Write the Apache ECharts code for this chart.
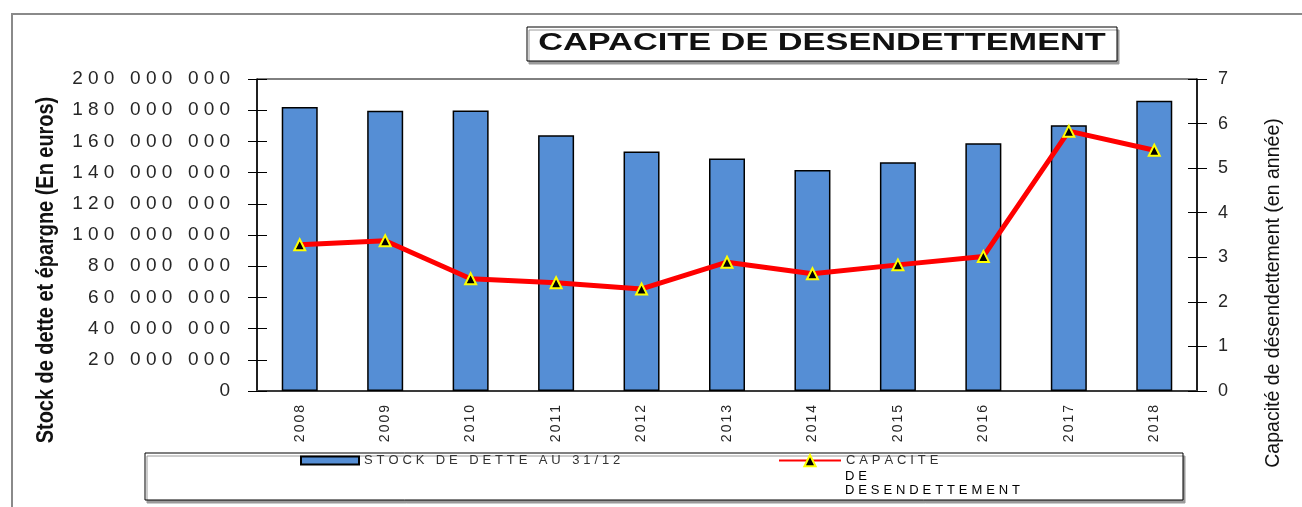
<!DOCTYPE html>
<html>
<head>
<meta charset="utf-8">
<script src="https://cdn.jsdelivr.net/npm/echarts@6/dist/echarts.min.js"></script>
<style>
    html, body { margin: 0; padding: 0; background: #fff; }
    #chart { width: 1302px; height: 507px; }
</style>
</head>
<body>
<div id="chart"></div>
<script>
// données
var annees = ['2008', '2009', '2010', '2011', '2012', '2013', '2014', '2015', '2016', '2017', '2018'];
var stockDette = [182000000, 179700000, 179800000, 163900000, 153500000, 149000000, 141700000, 146700000, 158800000, 170300000, 186100000];
var capacite = [3.28, 3.37, 2.52, 2.43, 2.29, 2.89, 2.63, 2.83, 3.02, 5.83, 5.40];

// échelles des deux axes
var stockMax = 200000000;
var stockPas = 20000000;
var capaciteMax = 7;
var capacitePas = 1;

var titre = 'CAPACITE DE DESENDETTEMENT';
var nomStock = 'STOCK DE DETTE AU 31/12';
var nomCapacite = 'CAPACITE DE DESENDETTEMENT';
var nomCapaciteLignes = ['CAPACITE', 'DE', 'DESENDETTEMENT'];
var nomAxeGauche = 'Stock de dette et épargne (En euros)';
var nomAxeDroit = 'Capacité de désendettement (en année)';

var FONT = '"Liberation Sans", Arial, Helvetica, sans-serif';
var TEXTE = '#262626';

// le texte du modèle est très étiré : un style rich par caractère (largeur + espace)
var mesure = document.createElement('canvas').getContext('2d');
function stylesEspaces(chars, size, weight, gap, color) {
    var rich = {};
    mesure.font = weight + ' ' + size + 'px ' + FONT;
    for (var i = 0; i < chars.length; i++) {
        var code = chars.charCodeAt(i);
        var base = { fontSize: size, fontWeight: weight, fontFamily: FONT, color: color, align: 'left' };
        rich['c' + code] = Object.assign({ width: mesure.measureText(chars[i]).width + gap }, base);
        rich['e' + code] = base;
    }
    return rich;
}
function espace(str) {
    var out = '';
    for (var i = 0; i < str.length; i++) {
        out += '{' + (i === str.length - 1 ? 'e' : 'c') + str.charCodeAt(i) + '|' + str[i] + '}';
    }
    return out;
}
function milliers(v) {
    return String(v).replace(/\B(?=(\d{3})+(?!\d))/g, ' ');
}

var richGraduation = stylesEspaces('0123456789 ', 19, 'normal', 5.2, TEXTE);
var richAnnee = stylesEspaces('0123456789', 14, 'normal', 2, TEXTE);
var richLegende = stylesEspaces(nomStock + nomCapacite, 13, 'normal', 3.9, '#333');

var myChart = echarts.init(document.getElementById('chart'));
window.addEventListener('resize', function () {
    myChart.resize();
});

var option = {
    animation: false,
    backgroundColor: '#fff',
    grid: {
        left: 257,
        right: 105,
        top: 79,
        bottom: 116,
        show: true,
        borderColor: '#000',
        borderWidth: 1,
        backgroundColor: '#fff'
    },
    xAxis: [
        {
            type: 'category',
            data: annees,
            axisLine: { lineStyle: { color: '#3a3a3a', width: 2 } },
            axisTick: { length: 7, lineStyle: { color: '#000' } },
            axisLabel: {
                rotate: 90,
                margin: 14,
                formatter: function (v) { return espace(v); },
                rich: richAnnee
            }
        },
        {
            // petites graduations vers l'intérieur (graduations croisées)
            type: 'category',
            data: annees,
            position: 'bottom',
            axisLine: { show: false },
            axisTick: { inside: true, length: 6, lineStyle: { color: '#000' } },
            axisLabel: { show: false }
        }
    ],
    yAxis: [
        {
            type: 'value',
            min: 0,
            max: stockMax,
            interval: stockPas,
            position: 'left',
            splitLine: { show: false },
            axisLine: { show: true, lineStyle: { color: '#000', width: 1.5 } },
            axisTick: { show: true, length: 9, lineStyle: { color: '#000' } },
            axisLabel: {
                margin: 27,
                formatter: function (v) { return espace(milliers(v)); },
                rich: richGraduation
            }
        },
        {
            type: 'value',
            min: 0,
            max: stockMax,
            interval: stockPas,
            position: 'left',
            splitLine: { show: false },
            axisLine: { show: false },
            axisTick: { show: true, inside: true, length: 10, lineStyle: { color: '#000' } },
            axisLabel: { show: false }
        },
        {
            type: 'value',
            min: 0,
            max: capaciteMax,
            interval: capacitePas,
            position: 'right',
            splitLine: { show: false },
            axisLine: { show: true, lineStyle: { color: '#000', width: 1.5 } },
            axisTick: { show: true, length: 10, lineStyle: { color: '#000' } },
            axisLabel: { margin: 21, fontSize: 18, fontFamily: FONT, color: TEXTE }
        },
        {
            type: 'value',
            min: 0,
            max: capaciteMax,
            interval: capacitePas,
            position: 'right',
            splitLine: { show: false },
            axisLine: { show: false },
            axisTick: { show: true, inside: true, length: 9, lineStyle: { color: '#000' } },
            axisLabel: { show: false }
        }
    ],
    legend: [
        {
            data: [nomStock],
            left: 300,
            top: 454,
            padding: 0,
            icon: 'rect',
            itemWidth: 58,
            itemHeight: 8,
            formatter: function (name) { return espace(name); },
            textStyle: { rich: richLegende }
        },
        {
            data: [nomCapacite],
            left: 778,
            top: 454,
            padding: 0,
            itemWidth: 62,
            itemHeight: 14,
            formatter: function () { return espace(nomCapaciteLignes[0]); },
            textStyle: { rich: richLegende }
        }
    ],
    graphic: [
        // cadre extérieur
        {
            type: 'rect', z: 0, silent: true,
            shape: { x: 12, y: 14, width: 1400, height: 600 },
            style: { fill: 'none', stroke: '#8a8a8a', lineWidth: 2 }
        },
        // cadre du titre
        {
            type: 'rect', z: 1, silent: true,
            shape: { x: 527, y: 27, width: 590, height: 34 },
            style: { fill: '#fff', stroke: '#000', lineWidth: 1, shadowColor: '#9a9a9a', shadowOffsetX: 2, shadowOffsetY: 3 }
        },
        {
            type: 'text', z: 10, silent: true,
            x: 822, y: 43, scaleX: 1.43,
            style: {
                text: titre, align: 'center', verticalAlign: 'middle',
                fontFamily: FONT, fontSize: 24, fontWeight: 'bold', fill: '#111'
            }
        },
        // cadre de la légende
        {
            type: 'rect', z: 1, silent: true,
            shape: { x: 145, y: 453, width: 1038, height: 47 },
            style: { fill: '#fff', stroke: '#000', lineWidth: 1, shadowColor: '#9a9a9a', shadowOffsetX: 2, shadowOffsetY: 3 }
        },
        {
            type: 'text', z: 10, silent: true,
            x: 845, y: 476,
            style: { text: espace(nomCapaciteLignes[1]), rich: richLegende, align: 'left', verticalAlign: 'middle' }
        },
        {
            type: 'text', z: 10, silent: true,
            x: 845, y: 490,
            style: { text: espace(nomCapaciteLignes[2]), rich: richLegende, align: 'left', verticalAlign: 'middle' }
        },
        // noms des axes (police condensée par scaleX)
        {
            type: 'text', z: 10, silent: true,
            x: 46, y: 270, rotation: Math.PI / 2, scaleX: 0.83,
            style: {
                text: nomAxeGauche, align: 'center', verticalAlign: 'middle',
                fontFamily: FONT, fontSize: 24, fontWeight: 'bold', fill: '#111'
            }
        },
        {
            type: 'text', z: 10, silent: true,
            x: 1273, y: 293, rotation: Math.PI / 2, scaleX: 0.93,
            style: {
                text: nomAxeDroit, align: 'center', verticalAlign: 'middle',
                fontFamily: FONT, fontSize: 21, fill: '#111'
            }
        }
    ],
    series: [
        {
            name: nomStock,
            type: 'bar',
            xAxisIndex: 0,
            yAxisIndex: 0,
            barWidth: 36,
            itemStyle: { color: '#558ed5', borderColor: '#000', borderWidth: 1.5 },
            data: stockDette
        },
        {
            name: nomCapacite,
            type: 'line',
            xAxisIndex: 0,
            yAxisIndex: 2,
            symbol: 'triangle',
            symbolSize: 11,
            lineStyle: { color: '#ff0000', width: 5 },
            itemStyle: { color: '#000', borderColor: '#ffff00', borderWidth: 2 },
            data: capacite
        }
    ]
};

myChart.setOption(option);
</script>
</body>
</html>
